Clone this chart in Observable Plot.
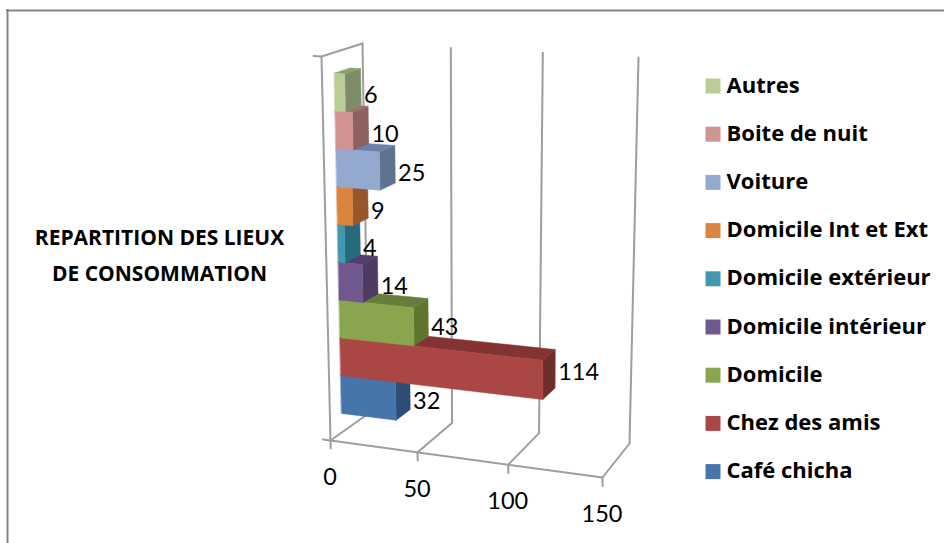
<!DOCTYPE html>
<html><head><meta charset="utf-8">
<style>html,body{margin:0;padding:0;background:#fff}svg{display:block}</style>
<script src="https://cdn.jsdelivr.net/npm/d3@7"></script>
<script src="https://cdn.jsdelivr.net/npm/@observablehq/plot@0.6"></script>
</head><body><div id="chart"></div>
<script>
const categories = ["Café chicha","Chez des amis","Domicile","Domicile intérieur","Domicile extérieur","Domicile Int et Ext","Voiture","Boite de nuit","Autres"];
const values = [32,114,43,14,4,9,25,10,6];
const frontColors = ["#4674AB","#AA4643","#89A54E","#71588F","#4198AF","#DB843D","#93A9CF","#D19392","#B9CD96"];
const sideColors = ["#2C4D75","#6E2E2C","#5F7530","#4D3B62","#276A7C","#98572B","#5F7290","#8D6160","#7E8C68"];
const topColors = ["#34587F","#833331","#667E3A","#553D6E","#2F7387","#A8612F","#6C81A8","#9E6E6D","#8BA06D"];
const axisTicks = [0,50,100,150];
const titleLines = ["REPARTITION DES LIEUX","DE CONSOMMATION"];

// Perspective box of the 3D chart
const corners = {
  v0:   {bottom:{front:[330,440],back:[368,413]}, top:{front:[321,56],back:[362,43]}},
  v150: {bottom:{front:[602,477],back:[629,443]}, top:{front:[598,72],back:[638,57]}}
};
const lerp = (a,b,s)=>a+(b-a)*s;
const lerp2 = (a,b,s)=>[lerp(a[0],b[0],s),lerp(a[1],b[1],s)];
function project(v,t,d){
  const u0=v/150, u=u0-0.06*u0*(1-u0);
  const corner = c => lerp2(lerp2(c.bottom.front,c.bottom.back,d),lerp2(c.top.front,c.top.back,d),t);
  return lerp2(corner(corners.v0),corner(corners.v150),u);
}
const barT0=0.05, barStep=0.0995, barD0=0.3, barD1=0.69;
const pt=(v,t,d)=>{const [x,y]=project(v,t,d);return {x,y};};

const marks=[];
const line=(pts,o={})=>marks.push(Plot.line(pts,{x:"x",y:"y",stroke:"#9E9E9E",strokeWidth:2,...o}));

// chart border: top and left edges only
marks.push(Plot.ruleY([10],{x1:6,x2:944,stroke:"#868686",strokeWidth:2}));
marks.push(Plot.ruleX([7],{y1:9,y2:543,stroke:"#868686",strokeWidth:2}));

// walls and floor
line([pt(0,1,1),pt(0,0,1)]);
for(const v of axisTicks){
  if(v>0) line([pt(v,1,1),pt(v,0,1)]);
  line([pt(v,0,1),pt(v,0,0),pt(v,-0.021,0)]);
}
line([pt(0,0,0),pt(150,0,0)]);
line([pt(-4.5,0,0),pt(0,0,0),pt(0,1,0),pt(-4.5,1,0)]);
line([pt(0,1,0),pt(0,1,1)]);

// bars bottom to top
values.forEach((v,i)=>{
  const t0=barT0+i*barStep,t1=t0+barStep;
  const face=(pts,c)=>marks.push(Plot.line(pts,{x:"x",y:"y",fill:c,stroke:c,strokeWidth:0.5,curve:"linear-closed"}));
  face([pt(v,t0,barD0),pt(v,t0,barD1),pt(v,t1,barD1),pt(v,t1,barD0)],sideColors[i]);
  face([pt(0,t1,barD0),pt(v,t1,barD0),pt(v,t1,barD1),pt(0,t1,barD1)],topColors[i]);
  face([pt(0,t0,barD0),pt(v,t0,barD0),pt(v,t1,barD0),pt(0,t1,barD0)],frontColors[i]);
});

// data labels
const labelLift=(v,i)=>13-0.08*v-Math.max(0,i-5)*1.5;
marks.push(Plot.text(values.map((v,i)=>{const p=pt(v,barT0+(i+0.5)*barStep,barD1);return {v,x:p.x,y:p.y+labelLift(v,i)};}),
  {x:"x",y:"y",text:d=>String(d.v),dx:3,textAnchor:"start",fontSize:23.5,fill:"#000",fontFamily:"Lato"}));
// axis labels
marks.push(Plot.text(axisTicks.map(v=>({v,...pt(v,0,0)})),
  {x:"x",y:"y",text:d=>String(d.v),dx:-0.5,dy:37,fontSize:23.5,fill:"#000",fontFamily:"Lato"}));
// title
marks.push(Plot.text(titleLines,{x:()=>159,y:(d,i)=>238+i*36,text:d=>d,fontSize:21,fontWeight:700,fill:"#000",fontFamily:"Open Sans"}));
// legend
const order=d3.range(categories.length).reverse();
marks.push(Plot.dot(order,{x:()=>712.5,y:(d,i)=>85.5+i*48.2,symbol:"square",r:8.46,fill:d=>frontColors[d],stroke:"none"}));
marks.push(Plot.text(order,{x:()=>726,y:(d,i)=>85+i*48.2,text:d=>categories[d],textAnchor:"start",fontSize:22,fontWeight:700,fill:"#000",fontFamily:"Open Sans"}));

document.getElementById("chart").append(Plot.plot({
  width:944,height:543,margin:0,
  x:{domain:[0,944],range:[0,944],axis:null},
  y:{domain:[0,543],range:[0,543],axis:null},
  style:{background:"#fff"},
  marks
}));
</script></body></html>
